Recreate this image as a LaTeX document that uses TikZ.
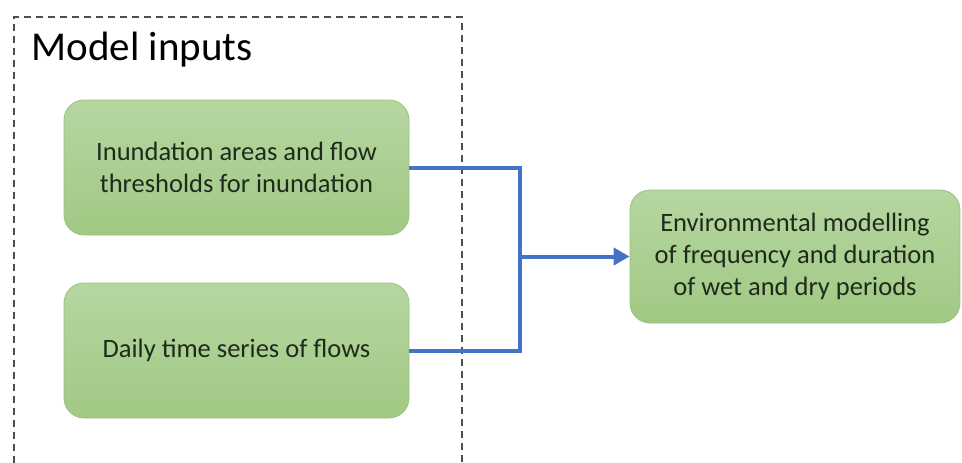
\documentclass[tikz,border=0pt]{standalone}
\usepackage{fontspec}
\setmainfont{Carlito}
\usepackage{tikz}
\usetikzlibrary{arrows.meta,positioning}
\definecolor{leaftop}{HTML}{B6D6A0}
\definecolor{leafbot}{HTML}{A1C884}
\definecolor{leafedge}{HTML}{9BC27E}
\definecolor{ink}{HTML}{1E2B1C}
\definecolor{flow}{HTML}{4472C4}
\definecolor{frame}{HTML}{4A4F56}
\tikzset{
  stage/.style={rounded corners=20pt,draw=leafedge,line width=0.8pt,
    top color=leaftop,bottom color=leafbot,align=center,text=ink,
    font=\fontsize{26.5}{32}\selectfont,inner sep=0pt},
  link/.style={draw=flow,line width=4pt,line join=miter},
  zone/.style={draw=frame,line width=1.3pt,dash pattern=on 7pt off 5pt},
}
\begin{document}
\begin{tikzpicture}[x=1pt,y=-1pt]
  \useasboundingbox (0,0) rectangle (962,463);
  % inputs zone
  \draw[zone] (14,463) -- (14,17) -- (462,17) -- (462,463);
  \node[anchor=base west,font=\fontsize{41}{48}\selectfont,text=black] (zonetitle) at (28,60) {Model inputs};

  \node[stage,minimum width=345pt,minimum height=135pt] (inundation) at (236.5,167.5)
    {Inundation areas and flow\\thresholds for inundation};
  \node[stage,minimum width=345pt,minimum height=135pt] (flows) at (236.5,350.5)
    {Daily time series of flows};
  \node[stage,minimum width=330pt,minimum height=133pt] (envmodel) at (795,256.5)
    {Environmental modelling\\of frequency and duration\\of wet and dry periods};

  \coordinate (joint) at (520,256.5);
  \draw[link] (inundation.east) -| (joint) |- (flows.east);
  \draw[link,-{Triangle[length=16pt,width=17pt]}] (joint) -- (envmodel.west);
\end{tikzpicture}
\end{document}
